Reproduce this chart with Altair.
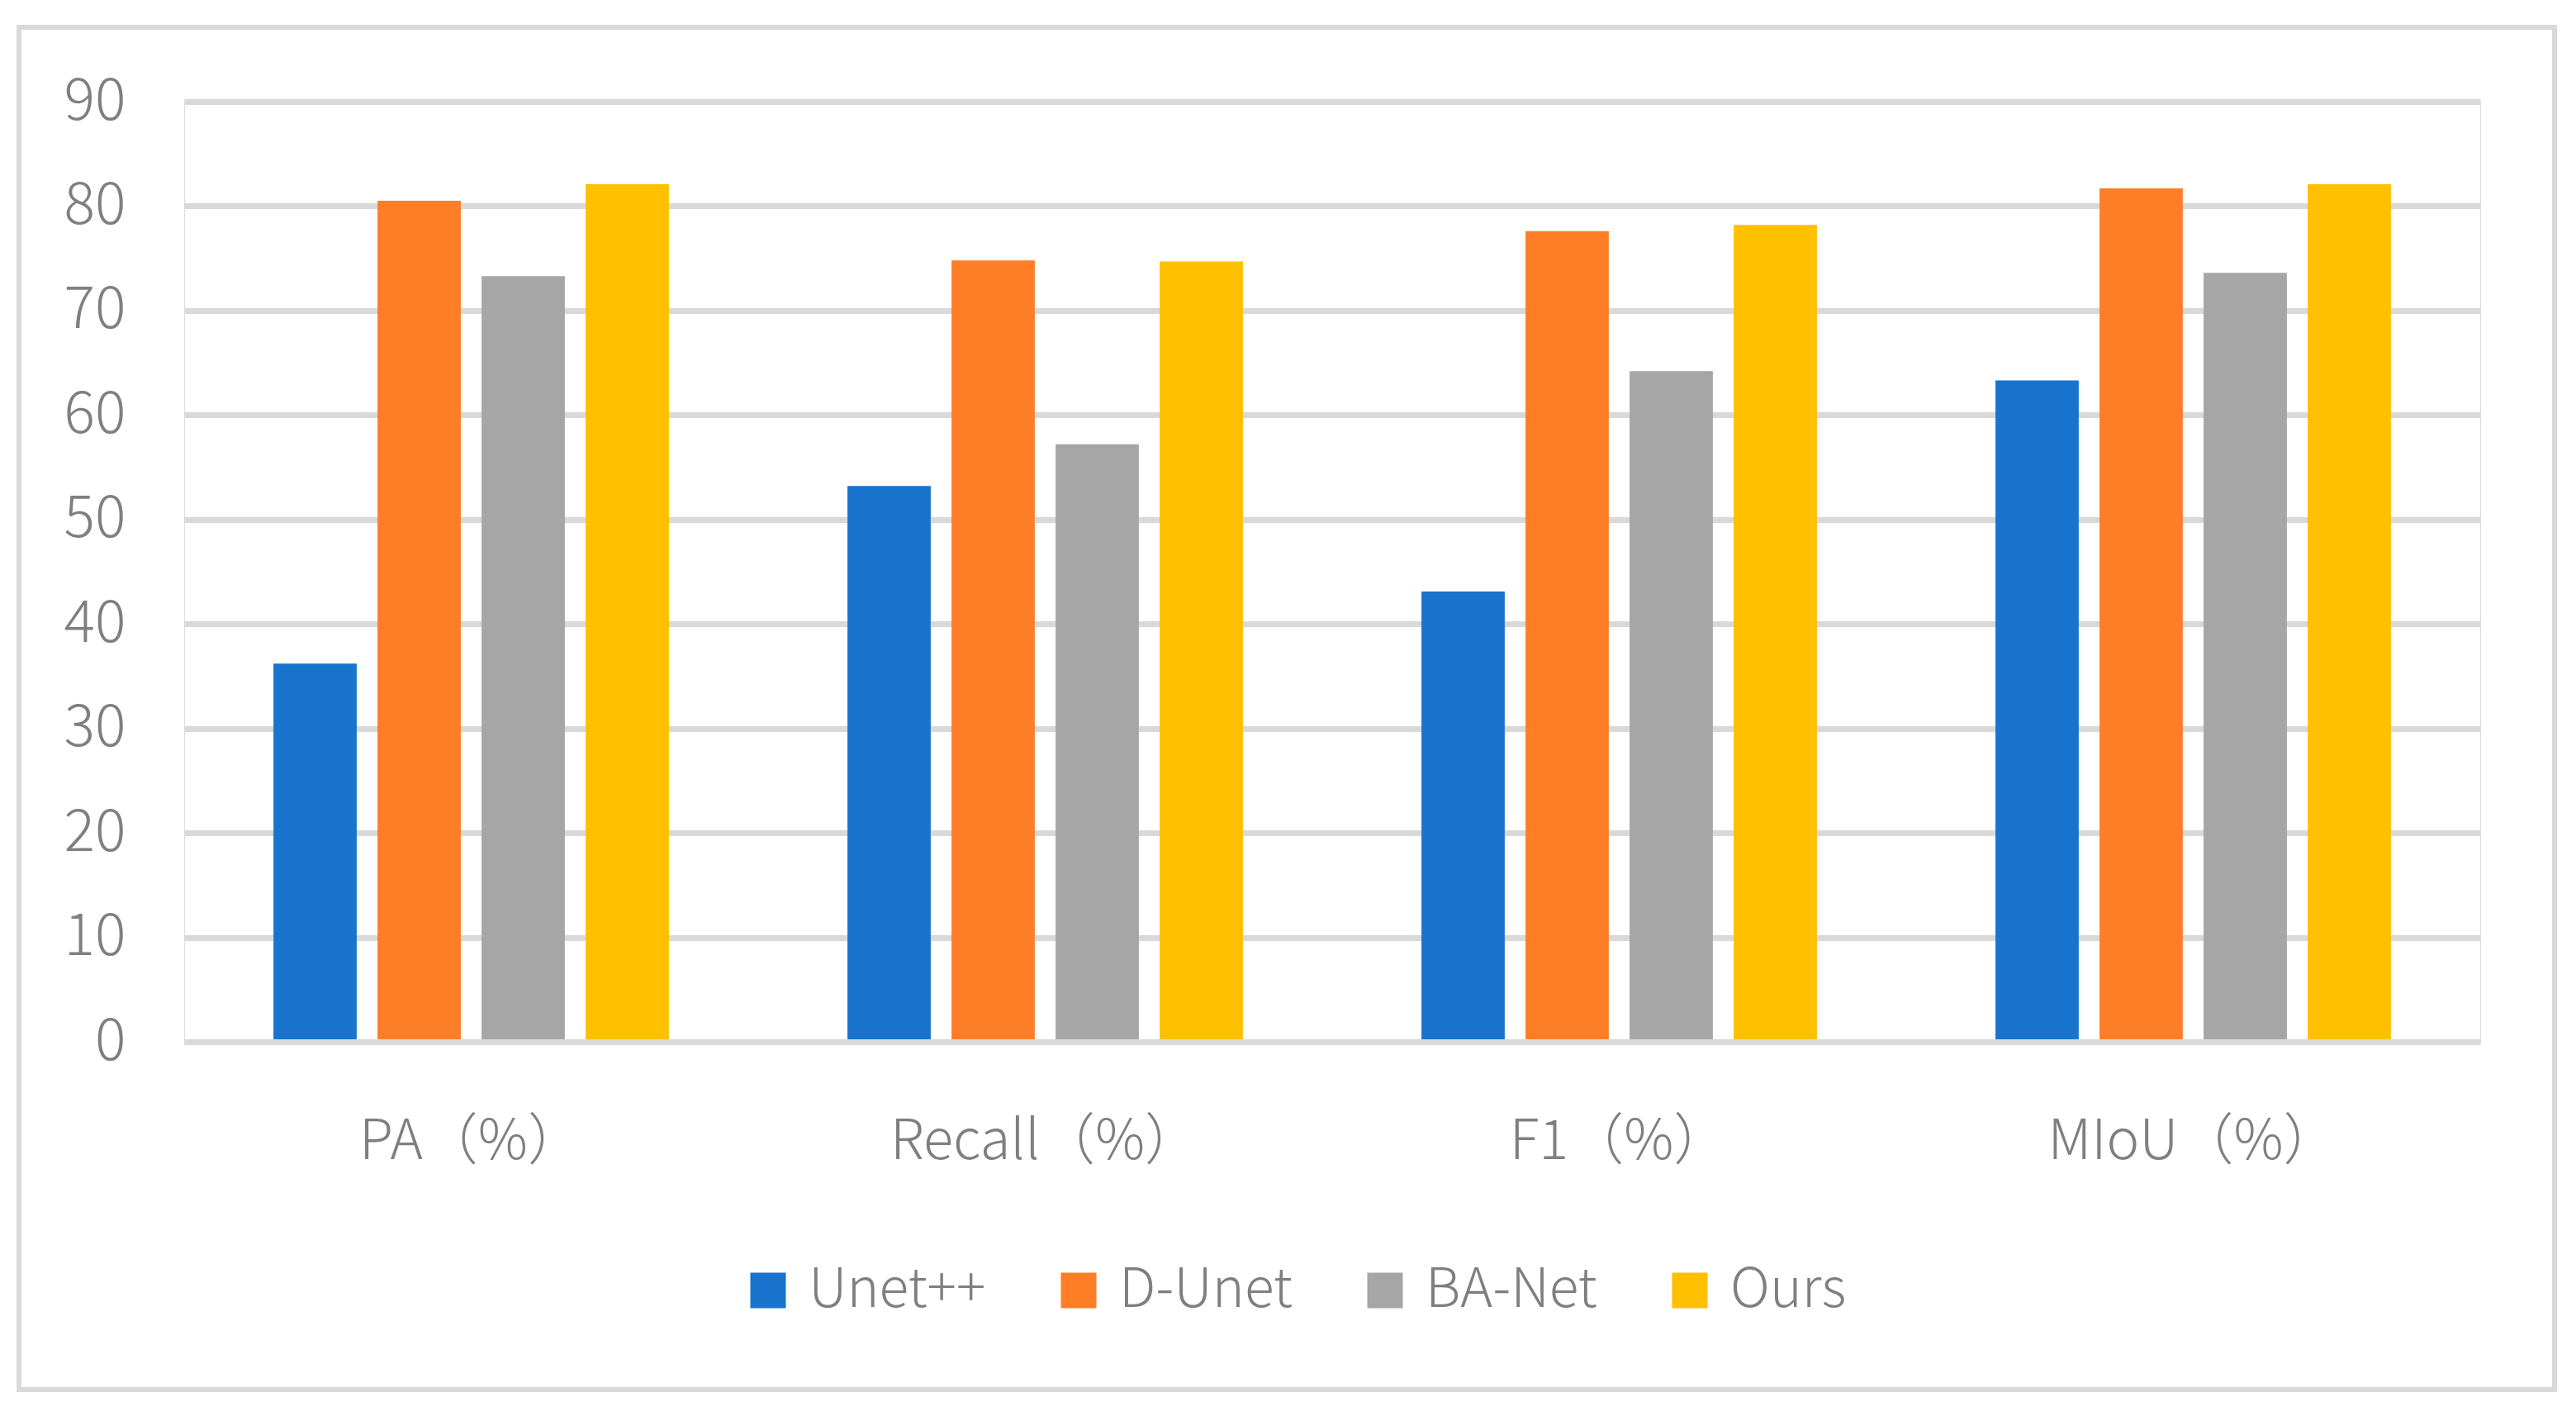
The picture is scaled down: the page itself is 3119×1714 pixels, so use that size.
import altair as alt
import pandas as pd

categories = ["PA（%）", "Recall（%）", "F1（%）", "MIoU（%）"]
series = ["Unet++", "D-Unet", "BA-Net", "Ours"]
unetpp = [36.2, 53.2, 43.1, 63.3]
dunet = [80.5, 74.8, 77.6, 81.7]
banet = [73.3, 57.2, 64.2, 73.6]
ours = [82.1, 74.7, 78.2, 82.1]
colors = ["#1874CD", "#FE7E27", "#A6A6A6", "#FFC000"]
y_ticks = [0, 10, 20, 30, 40, 50, 60, 70, 80, 90]

rows = []
for name, vals in zip(series, [unetpp, dunet, banet, ours]):
    for c, v in zip(categories, vals):
        rows.append({"metric": c, "model": name, "value": v})
df = pd.DataFrame(rows)

FONT = "Noto Sans CJK SC"
GRAY = "#7F7F7F"
WEIGHT = 300
W, H = 2780, 1138

bars = alt.Chart(df).mark_bar().encode(
    x=alt.X("metric:N", sort=categories,
            scale=alt.Scale(paddingInner=0, paddingOuter=0),
            axis=alt.Axis(title=None, labelAngle=0, labelFont=FONT, labelFontSize=67,
                          labelFontWeight=WEIGHT, labelLimit=1200,
                          labelColor=GRAY, labelBaseline="alphabetic", labelPadding=141,
                          ticks=False, domain=True, domainColor="#D9D9D9", domainWidth=7,
                          grid=False, zindex=1)),
    xOffset=alt.XOffset("model:N", sort=series,
                        scale=alt.Scale(paddingInner=0.2, paddingOuter=0.858)),
    y=alt.Y("value:Q", scale=alt.Scale(domain=[0, 90], nice=False),
            axis=alt.Axis(title=None, values=y_ticks, labelFont=FONT, labelFontSize=70,
                          labelFontWeight=WEIGHT,
                          labelColor=GRAY, labelPadding=71, ticks=False, domain=False,
                          grid=True, gridColor="#D9D9D9", gridWidth=7)),
    color=alt.Color("model:N", sort=series,
                    scale=alt.Scale(domain=series, range=colors),
                    legend=alt.Legend(title=None, orient="none", direction="horizontal",
                                      columns=4, legendX=674, legendY=1406,
                                      symbolType="square", symbolSize=1849,
                                      symbolStrokeWidth=0, labelFont=FONT,
                                      labelFontSize=66, labelFontWeight=WEIGHT,
                                      labelColor=GRAY, labelOffset=16,
                                      columnPadding=79, padding=0, labelLimit=600)),
)

frame = alt.Chart(pd.DataFrame({"k": [0]})).mark_rect(
    fill=None, stroke="#D9D9D9", strokeWidth=6, clip=False
).encode(
    x=alt.value(-200), x2=alt.value(2870), y=alt.value(-90), y2=alt.value(1559)
)

chart = alt.layer(frame, bars).properties(
    width=W, height=H,
    autosize=alt.AutoSizeParams(type="none"),
    padding={"left": 215, "top": 115, "right": 100, "bottom": 430},
).configure_view(stroke=None).configure(background="white")

chart.save("out.html", embed_options={"renderer": "svg", "actions": False})
